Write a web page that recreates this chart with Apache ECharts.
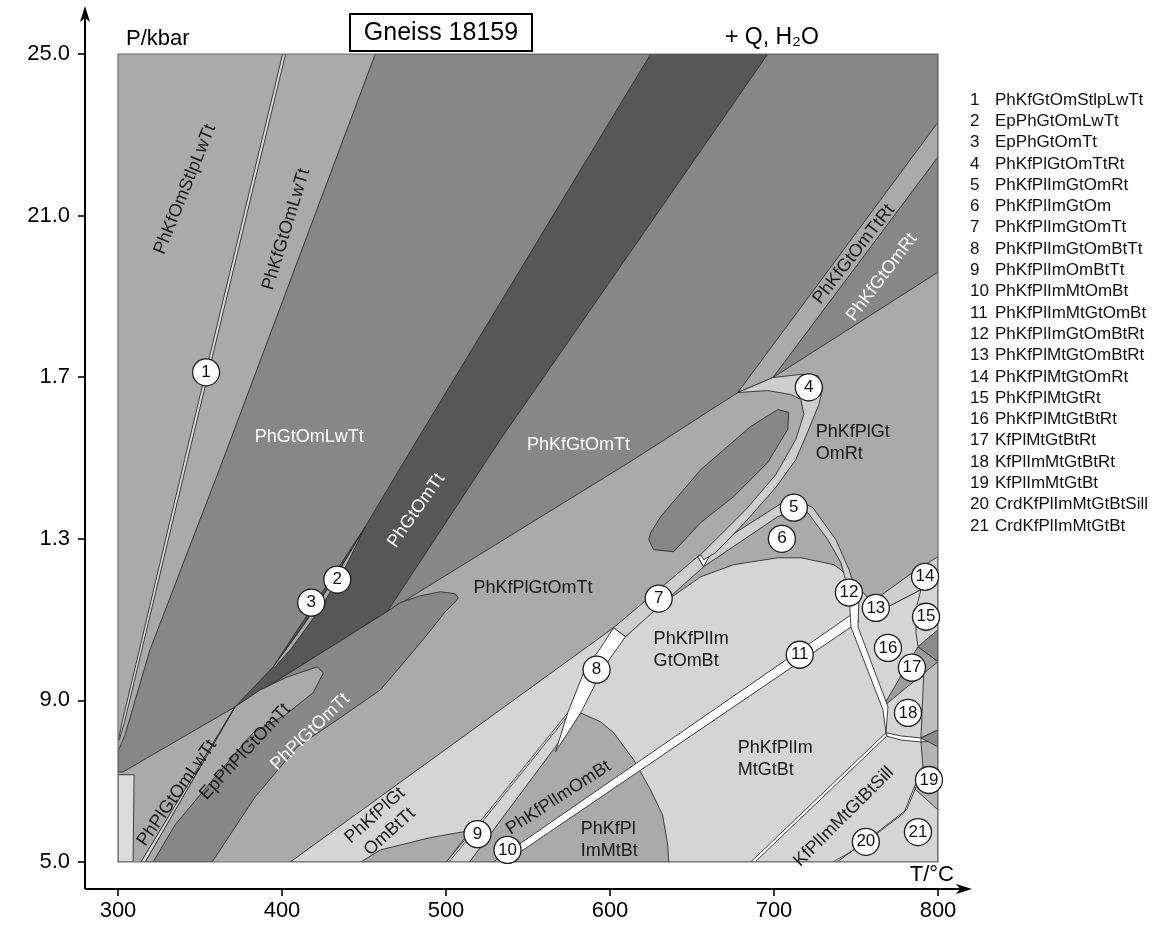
<!DOCTYPE html>
<html><head><meta charset="utf-8">
<script src="https://cdn.jsdelivr.net/npm/echarts@6/dist/echarts.min.js"></script>
<style>html,body{margin:0;padding:0;background:#fff}#c{width:1171px;height:949px}</style>
</head><body><div id="c"></div>
<script>
// ---------- axis data ----------
const xTickValues = [300, 400, 500, 600, 700, 800];
const yTickValues = [5, 9, 13, 17, 21, 25];
const yTickLabels = ['5.0', '9.0', '1.3', '1.7', '21.0', '25.0'];

// ---------- field polygons, [T (°C), P (kbar)] ----------
const fPlot = [[300,5],[800,5],[800,25],[300,25]];
const fUpperMid = [[456.9,25],[800,25],[800,19.60],[699.3,16.99],[677.9,16.62],[614.4,14.96],[464.2,11.20],[371.4,8.84],[303.1,7.23],[300,7.23],[300,7.73],[304.3,8.15],[319.5,10.25],[364.1,14.96]];
const fTtRtBand = [[800,23.31],[800,22.45],[699.3,16.99],[677.9,16.62]];
const fDark = [[624.8,25],[696.2,25],[533.2,15.46],[464.2,11.20],[371.4,8.84],[394.6,9.83],[450.8,13.30],[475.2,14.96],[545.4,19.67]];
const fLens23 = [[394.6,9.83],[411.1,10.75],[429.4,11.86],[450.8,13.30],[438.6,12.29],[422.1,11.20],[405.0,10.25],[395.8,9.83]];
const lLens23Mid = [[394.6,9.83],[413,10.85],[431,11.95],[450.8,13.30]];
const fEllipsePlGtOmTt = [[464.2,11.20],[472.2,11.42],[484.4,11.59],[496.6,11.69],[505.7,11.64],[507.5,11.54],[505.7,11.44],[499.6,11.20],[492.3,10.82],[478.3,10.13],[460.0,9.26],[435.5,8.57],[409.3,7.85],[383.6,6.61],[357.4,5.0],[314.0,5.0],[371.4,8.84]];
const fLensEp = [[371.4,8.84],[386.7,9.26],[403.2,9.58],[421.5,9.83],[425.2,9.68],[419.0,9.19],[402.0,8.64],[382.4,8.20],[356.2,6.96],[334.8,5.92],[321.4,5.0],[316.5,5.0]];
const fDoubleLine = [[371.4,8.84],[314.0,5.0],[316.5,5.0]];
const fLeftStrip = [[300,7.16],[309.8,7.16],[309.2,5],[300,5]];
const fLine1Strip = [[400.4,25],[340.6,14.96],[302.4,8.44],[300.3,8.02],[300.8,8.02],[303.8,8.44],[342.4,14.96],[402.2,25]];
const fVeryLight = [[405.0,5.0],[602.2,10.80],[609.5,10.58],[624.8,11.17],[635.2,11.49],[655.3,12.06],[675.5,12.36],[702.3,12.53],[716.4,12.53],[736.5,12.36],[746.9,12.04],[753.0,11.74],[762.1,11.29],[769.5,11.32],[789.6,11.74],[800,11.99],[800,5.0]];
const fSmallLensBottom = [[448,5.0],[460,5.30],[490,5.6],[515,5.78],[500.2,5.0]];
const fImGray = [[582.1,8.69],[594.3,8.47],[602.2,8.20],[614.4,7.53],[624.8,6.78],[632.1,6.16],[635.2,5.42],[635.8,5.0],[514.3,5.0],[528.9,5.79]];
const f9Band = [[574.2,8.69],[521.0,6.01],[500.2,5.0],[501.8,5.0],[522.4,6.01],[575.6,8.69]];
const fBand11 = [[528.9,5.0],[536.3,5.0],[751.8,10.95],[750.0,11.20]];
const fBand8 = [[602.2,10.80],[594.3,10.30],[584.6,9.76],[574.2,8.69],[566.8,7.73],[582.1,8.69],[595.5,9.76],[601.6,10.13],[609.5,10.58]];
const fBand7 = [[602.2,10.80],[653.5,12.56],[657.1,12.31],[609.5,10.58]];
const fBand5 = [[653.5,12.56],[705.4,13.90],[714.5,13.97],[723.7,13.77],[737.7,12.98],[745.7,12.24],[751.8,11.49],[748.7,11.32],[745.7,11.67],[740.8,12.41],[732.8,12.98],[720.6,13.65],[713.3,13.67],[702.3,13.55],[657.1,12.31]];
const fWhiteTri = [[653.5,12.56],[662.6,12.73],[657.1,12.31]];
const fBand4 = [[677.9,16.62],[699.3,16.99],[716.4,17.07],[726.7,17.04],[729.8,16.75],[727.4,16.33],[721.2,15.71],[713.3,14.96],[701.1,14.27],[682.8,13.43],[664.5,12.66],[657.1,12.48],[655.3,12.61],[664.5,12.98],[682.8,13.72],[701.1,14.59],[713.3,15.46],[718.2,16.08],[716.4,16.45],[710.3,16.57],[696.2,16.67]];
const fInnerEllipse = [[624.8,13.15],[630.9,13.55],[655.3,14.71],[685.8,15.78],[702.3,16.20],[709.0,16.13],[708.4,15.71],[696.2,14.89],[675.5,14.05],[655.3,13.40],[638.8,12.68],[626.6,12.73],[623.6,12.98]];
const fBand14 = [[759.1,11.42],[785.3,12.19],[800,12.56],[800,11.99],[789.6,11.74],[769.5,11.32],[762.1,11.29]];
const fStrip18Right = [[791.5,9.83],[800,9.96],[800,8.27],[789.6,8.07]];
const f17a = [[766.4,8.84],[787.8,10.33],[800,9.96]];
const f17b = [[787.8,10.33],[800,10.75],[800,9.96]];
const f19Gray = [[789.6,7.97],[800,8.0],[800,6.29],[785.3,6.83],[790.8,7.35]];
const fDarkTri18 = [[789.6,8.07],[800,8.27],[800,7.85]];
const f12Strip = [[745.7,11.67],[746.9,10.82],[766.4,8.77],[768.3,8.20],[769.5,8.84],[751.2,10.82],[751.8,11.49]];
const f18Strip = [[768.3,8.20],[777.4,8.12],[789.6,8.07],[789.6,7.97],[777.4,8.02],[768.3,8.12]];
const fSillLine = [[768.3,8.20],[685.8,5.0],[688.4,5.0],[768.8,8.12]];
const f20Strip = [[785.3,6.83],[779.2,6.21],[763.4,5.72],[746.9,5.25],[735.9,5.0],[738.5,5.0],[749,5.32],[765,5.80],[781,6.30],[786.5,6.85]];
const l15 = [[789.6,11.74],[786.6,11.25],[786.6,10.68],[787.8,10.33]];

// ---------- field labels ----------
const labelTexts = ['PhKfOmStlpLwTt','PhKfGtOmLwTt','PhGtOmLwTt','PhGtOmTt','PhKfGtOmTt','PhKfGtOmTtRt','PhKfGtOmRt','PhKfPlGt\nOmRt','PhKfPlGtOmTt','PhPlGtOmTt','EpPhPlGtOmTt','PhPlGtOmLwTt','PhKfPlGt\nOmBtTt','PhKfPlImOmBt','PhKfPl\nImMtBt','PhKfPlIm\nGtOmBt','PhKfPlIm\nMtGtBt','KfPlImMtGtBtSill'];
const labelT = [340.9,402.6,416.6,481.9,580.8,748.7,765.8,725.5,516.7,417.2,377.5,336.0,461.2,568.6,582.1,626.6,677.9,742.6];
const labelP = [21.65,20.66,15.51,13.70,15.33,20.04,19.47,15.36,11.79,8.22,7.73,6.71,5.95,6.59,5.55,10.25,7.55,6.12];
const labelRot = [68,73,0,55,0,52,53,0,0,44,47,55,42,33,0,0,0,45];
const labelWhite = [0,0,1,1,1,0,1,0,0,1,0,0,0,0,0,0,0,0];
const labelLeft = [0,0,0,0,0,0,0,1,1,0,0,0,0,0,1,1,1,0];

// ---------- numbered invariant fields ----------
const circleNum = ['1','2','3','4','5','6','7','8','9','10','11','12','13','14','15','16','17','18','19','20','21'];
const circleT = [353.7,433.7,417.8,721.2,712.1,704.8,629.7,591.8,519.2,537.5,715.7,745.7,762.1,792.1,792.7,769.5,784.1,781.7,794.5,756.0,787.8];
const circleP = [17.12,11.99,11.42,16.75,13.77,13.00,11.52,9.76,5.69,5.30,10.13,11.67,11.29,12.06,11.07,10.30,9.81,8.69,7.03,5.50,5.74];

const legendNames = ['PhKfGtOmStlpLwTt','EpPhGtOmLwTt','EpPhGtOmTt','PhKfPlGtOmTtRt','PhKfPlImGtOmRt','PhKfPlImGtOm','PhKfPlImGtOmTt','PhKfPlImGtOmBtTt','PhKfPlImOmBtTt','PhKfPlImMtOmBt','PhKfPlImMtGtOmBt','PhKfPlImGtOmBtRt','PhKfPlMtGtOmBtRt','PhKfPlMtGtOmRt','PhKfPlMtGtRt','PhKfPlMtGtBtRt','KfPlMtGtBtRt','KfPlImMtGtBtRt','KfPlImMtGtBt','CrdKfPlImMtGtBtSill','CrdKfPlImMtGtBt'];

// ---------- colours ----------
const C_L = '#aaaaaa', C_M = '#878787', C_D = '#575757', C_VL = '#d5d5d5', C_B = '#cecece', C_W = '#ffffff', C_DD = '#dcdcdc';
const FONT = '"Liberation Sans", Arial, Helvetica, sans-serif';

const layers = [
  [fPlot, C_L, null], [fUpperMid, C_M], [fTtRtBand, C_L], [fDark, C_D], [fLens23, C_L],
  [fEllipsePlGtOmTt, C_M], [fLensEp, C_L], [fDoubleLine, C_DD], [fLeftStrip, C_DD], [fLine1Strip, C_DD],
  [fVeryLight, C_VL], [fSmallLensBottom, C_L], [fImGray, C_L], [f9Band, C_W], [fBand11, C_W], [fBand8, C_W],
  [fBand7, C_B], [fBand5, C_B], [fWhiteTri, C_W], [fBand4, C_B], [fInnerEllipse, C_M], [fBand14, C_B],
  [fStrip18Right, '#bdbdbd'], [f17a, '#9e9e9e'], [f17b, '#8a8a8a'], [f19Gray, '#b3b3b3'], [fDarkTri18, '#8a8a8a'],
  [f12Strip, C_W], [f18Strip, C_W], [fSillLine, C_W], [f20Strip, C_W]
];
const polylines = [lLens23Mid, l15];

const series = [];
layers.forEach(function (ly, i) {
  const pts = ly[0], fill = ly[1], noStroke = ly.length > 2;
  series.push({
    type: 'custom', coordinateSystem: 'cartesian2d', clip: true, silent: true, z: 2 + i,
    data: [[550, 15]],
    renderItem: function (params, api) {
      return { type: 'polygon', shape: { points: pts.map(function (p) { return api.coord(p); }) },
        style: { fill: fill, stroke: noStroke ? null : '#2e2e2e', lineWidth: noStroke ? 0 : 0.9 } };
    }
  });
});
polylines.forEach(function (pl, i) {
  series.push({
    type: 'custom', coordinateSystem: 'cartesian2d', clip: true, silent: true, z: 60 + i,
    data: [[550, 15]],
    renderItem: function (params, api) {
      return { type: 'polyline', shape: { points: pl.map(function (p) { return api.coord(p); }) },
        style: { fill: null, stroke: '#2e2e2e', lineWidth: 0.9 } };
    }
  });
});
// frame
series.push({
  type: 'custom', coordinateSystem: 'cartesian2d', clip: false, silent: true, z: 70,
  data: [[550, 15]],
  renderItem: function (params, api) {
    return { type: 'polygon', shape: { points: fPlot.map(function (p) { return api.coord(p); }) },
      style: { fill: null, stroke: '#6e6e6e', lineWidth: 1.2 } };
  }
});
// field labels
series.push({
  type: 'custom', coordinateSystem: 'cartesian2d', clip: false, silent: true, z: 80,
  data: labelTexts.map(function (t, i) { return [labelT[i], labelP[i]]; }),
  renderItem: function (params, api) {
    const i = params.dataIndex;
    const c = api.coord([api.value(0), api.value(1)]);
    return { type: 'text', x: c[0], y: c[1], rotation: labelRot[i] * Math.PI / 180,
      style: { text: labelTexts[i], fill: labelWhite[i] ? '#ffffff' : '#1a1a1a', font: '18px ' + FONT,
        align: labelLeft[i] ? 'left' : 'center', verticalAlign: 'middle', lineHeight: 22 } };
  }
});
// numbered circles
series.push({
  type: 'scatter', z: 90, symbol: 'circle', symbolSize: 27, silent: true,
  data: circleNum.map(function (n, i) { return [circleT[i], circleP[i], n]; }),
  itemStyle: { color: '#ffffff', borderColor: '#1e1e1e', borderWidth: 1.3, opacity: 1 },
  label: { show: true, position: 'inside', formatter: function (p) { return p.value[2]; },
    color: '#111', fontSize: 17, fontFamily: FONT }
});

const option = {
  animation: false,
  backgroundColor: '#ffffff',
  grid: { left: 118, right: 233, top: 54, bottom: 87, show: false },
  xAxis: {
    type: 'value', min: 300, max: 800, interval: 100, offset: 27,
    axisLine: { show: false },
    axisTick: { show: true, length: 7, lineStyle: { color: '#000', width: 1.6 } },
    axisLabel: { color: '#000', fontSize: 22, fontFamily: FONT, margin: 11,
      formatter: function (v) { return xTickValues.indexOf(v) >= 0 ? String(v) : ''; } },
    splitLine: { show: false }
  },
  yAxis: {
    type: 'value', min: 5, max: 25, interval: 4, offset: 33,
    axisLine: { show: false },
    axisTick: { show: true, length: 7, lineStyle: { color: '#000', width: 1.6 } },
    axisLabel: { color: '#000', fontSize: 22, fontFamily: FONT, margin: 15,
      formatter: function (v) { const k = yTickValues.indexOf(v); return k >= 0 ? yTickLabels[k] : ''; } },
    splitLine: { show: false }
  },
  series: series
};

const chart = echarts.init(document.getElementById('c'));
chart.setOption(option);

const o = chart.convertToPixel({ gridIndex: 0 }, [300, 5]);
const tr = chart.convertToPixel({ gridIndex: 0 }, [800, 25]);
const ax = o[0] - 33, ay = o[1] + 27;
const g = [];
g.push({ type: 'line', shape: { x1: ax, y1: ay, x2: ax, y2: 14 }, style: { stroke: '#000', lineWidth: 2 } });
g.push({ type: 'polygon', shape: { points: [[ax, 6], [ax - 5, 22], [ax, 18], [ax + 5, 22]] }, style: { fill: '#000' } });
g.push({ type: 'line', shape: { x1: ax, y1: ay, x2: tr[0] + 26, y2: ay }, style: { stroke: '#000', lineWidth: 2 } });
g.push({ type: 'polygon', shape: { points: [[tr[0] + 34, ay], [tr[0] + 18, ay - 5], [tr[0] + 22, ay], [tr[0] + 18, ay + 5]] }, style: { fill: '#000' } });
g.push({ type: 'text', x: o[0] + 8, y: tr[1] - 15, style: { text: 'P/kbar', font: '22px ' + FONT, fill: '#000', align: 'left', verticalAlign: 'middle' } });
g.push({ type: 'text', x: tr[0] + 16, y: o[1] + 13, style: { text: 'T/°C', font: '22px ' + FONT, fill: '#000', align: 'right', verticalAlign: 'middle' } });
g.push({ type: 'rect', shape: { x: 350, y: 14, width: 182, height: 37 }, style: { fill: '#fff', stroke: '#000', lineWidth: 2 } });
g.push({ type: 'text', x: 441, y: 33, style: { text: 'Gneiss 18159', font: '25px ' + FONT, fill: '#000', align: 'center', verticalAlign: 'middle' } });
g.push({ type: 'text', x: 725, y: 38, style: { text: '+ Q, H₂O', font: '23px ' + FONT, fill: '#000', align: 'left', verticalAlign: 'middle' } });
legendNames.forEach(function (n, i) {
  const y = 100 + i * 21.3;
  g.push({ type: 'text', x: 970, y: y, style: { text: circleNum[i], font: '17px ' + FONT, fill: '#111', align: 'left', verticalAlign: 'middle' } });
  g.push({ type: 'text', x: 995, y: y, style: { text: n, font: '17px ' + FONT, fill: '#111', align: 'left', verticalAlign: 'middle' } });
});
chart.setOption({ graphic: g });
</script>
</body></html>
